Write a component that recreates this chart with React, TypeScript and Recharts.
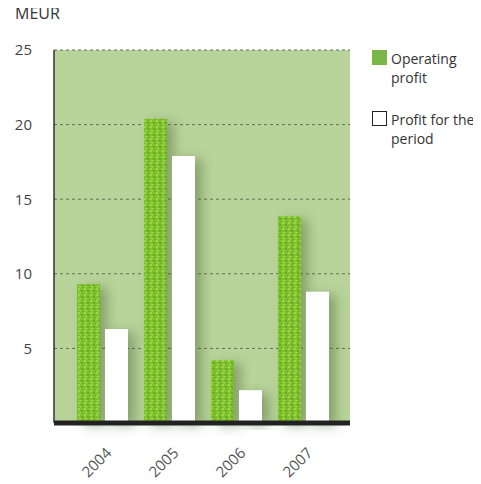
import React from 'react'
import { BarChart, Bar, XAxis, YAxis, CartesianGrid } from 'recharts'

const years = ['2004', '2005', '2006', '2007']
const operatingProfit = [9.3, 20.4, 4.2, 13.85]
const profitForPeriod = [6.3, 17.9, 2.2, 8.8]
const yTicks = [5, 10, 15, 20, 25]

const data = years.map((year, i) => ({
  year,
  operating: operatingProfit[i],
  period: profitForPeriod[i],
}))

const font = '"Open Sans", "DejaVu Sans", sans-serif'

const YearTick = (props: any) => {
  const { x, y, payload } = props
  return (
    <g transform={`translate(${x + 10},${y + 23})`}>
      <text
        textAnchor="end"
        transform="rotate(-45)"
        fill="#555"
        fontSize={15}
        fontFamily={font}
      >
        {payload.value}
      </text>
    </g>
  )
}

// legend drawn beside the plot, outside recharts' layout
const LegendBox = () => (
  <div style={{ position: 'absolute', left: 372, top: 49, width: 109, fontFamily: font, fontSize: 14, color: '#333', lineHeight: '19px' }}>
    <div style={{ display: 'flex', alignItems: 'flex-start' }}>
      <span style={{ width: 15, height: 15, background: '#7ab648', marginTop: 1, marginRight: 4, flexShrink: 0 }} />
      <span>Operating<br />profit</span>
    </div>
    <div style={{ display: 'flex', alignItems: 'flex-start', marginTop: 23 }}>
      <span style={{ width: 13, height: 13, border: '1px solid #222', background: '#fff', marginTop: 1, marginRight: 4, flexShrink: 0 }} />
      <span>Profit for the<br />period</span>
    </div>
  </div>
)

export default function App() {
  return (
    <div style={{ position: 'relative', margin: '-8px 0 0 -8px', width: 481, height: 484, background: '#fff' }}>
      <div style={{ position: 'absolute', left: 15, top: 2, fontFamily: font, fontSize: 16, color: '#333' }}>MEUR</div>
      <LegendBox />
      <BarChart
        width={481}
        height={484}
        data={data}
        margin={{ top: 50, right: 131, left: 0, bottom: 6 }}
        barSize={23}
        barGap={5}
      >
        <defs>
          <pattern id="grain" width="6" height="6" patternUnits="userSpaceOnUse">
            <rect width="6" height="6" fill="#80c22e" />
            <rect x="0" y="0" width="2" height="2" fill="#9bd848" />
            <rect x="3" y="2" width="2" height="2" fill="#6aa826" />
            <rect x="1" y="4" width="2" height="1" fill="#a6dd55" />
            <rect x="4" y="5" width="2" height="1" fill="#72b02a" />
          </pattern>
          <filter id="shade" x="-50%" y="-20%" width="220%" height="140%">
            <feDropShadow dx="7" dy="3" stdDeviation="6" floodColor="#4a6330" floodOpacity="0.45" />
          </filter>
        </defs>
        <CartesianGrid
          vertical={false}
          fill="#b8d49a"
          stroke="#5f6f55"
          strokeDasharray="3 3"
          horizontalValues={yTicks}
        />
        <XAxis
          dataKey="year"
          height={55}
          padding={{ left: 15, right: 13 }}
          axisLine={{ stroke: '#222', strokeWidth: 5 }}
          tickLine={false}
          tick={<YearTick />}
        />
        <YAxis
          width={54}
          domain={[0, 25]}
          ticks={yTicks}
          axisLine={{ stroke: '#333', strokeWidth: 1.5 }}
          tickLine={false}
          tickSize={0}
          tickMargin={22}
          tick={{ fill: '#444', fontSize: 15, fontFamily: font }}
        />
        <Bar dataKey="operating" name="Operating profit" fill="url(#grain)" filter="url(#shade)" isAnimationActive={false} />
        <Bar dataKey="period" name="Profit for the period" fill="#ffffff" filter="url(#shade)" isAnimationActive={false} />
      </BarChart>
    </div>
  )
}
